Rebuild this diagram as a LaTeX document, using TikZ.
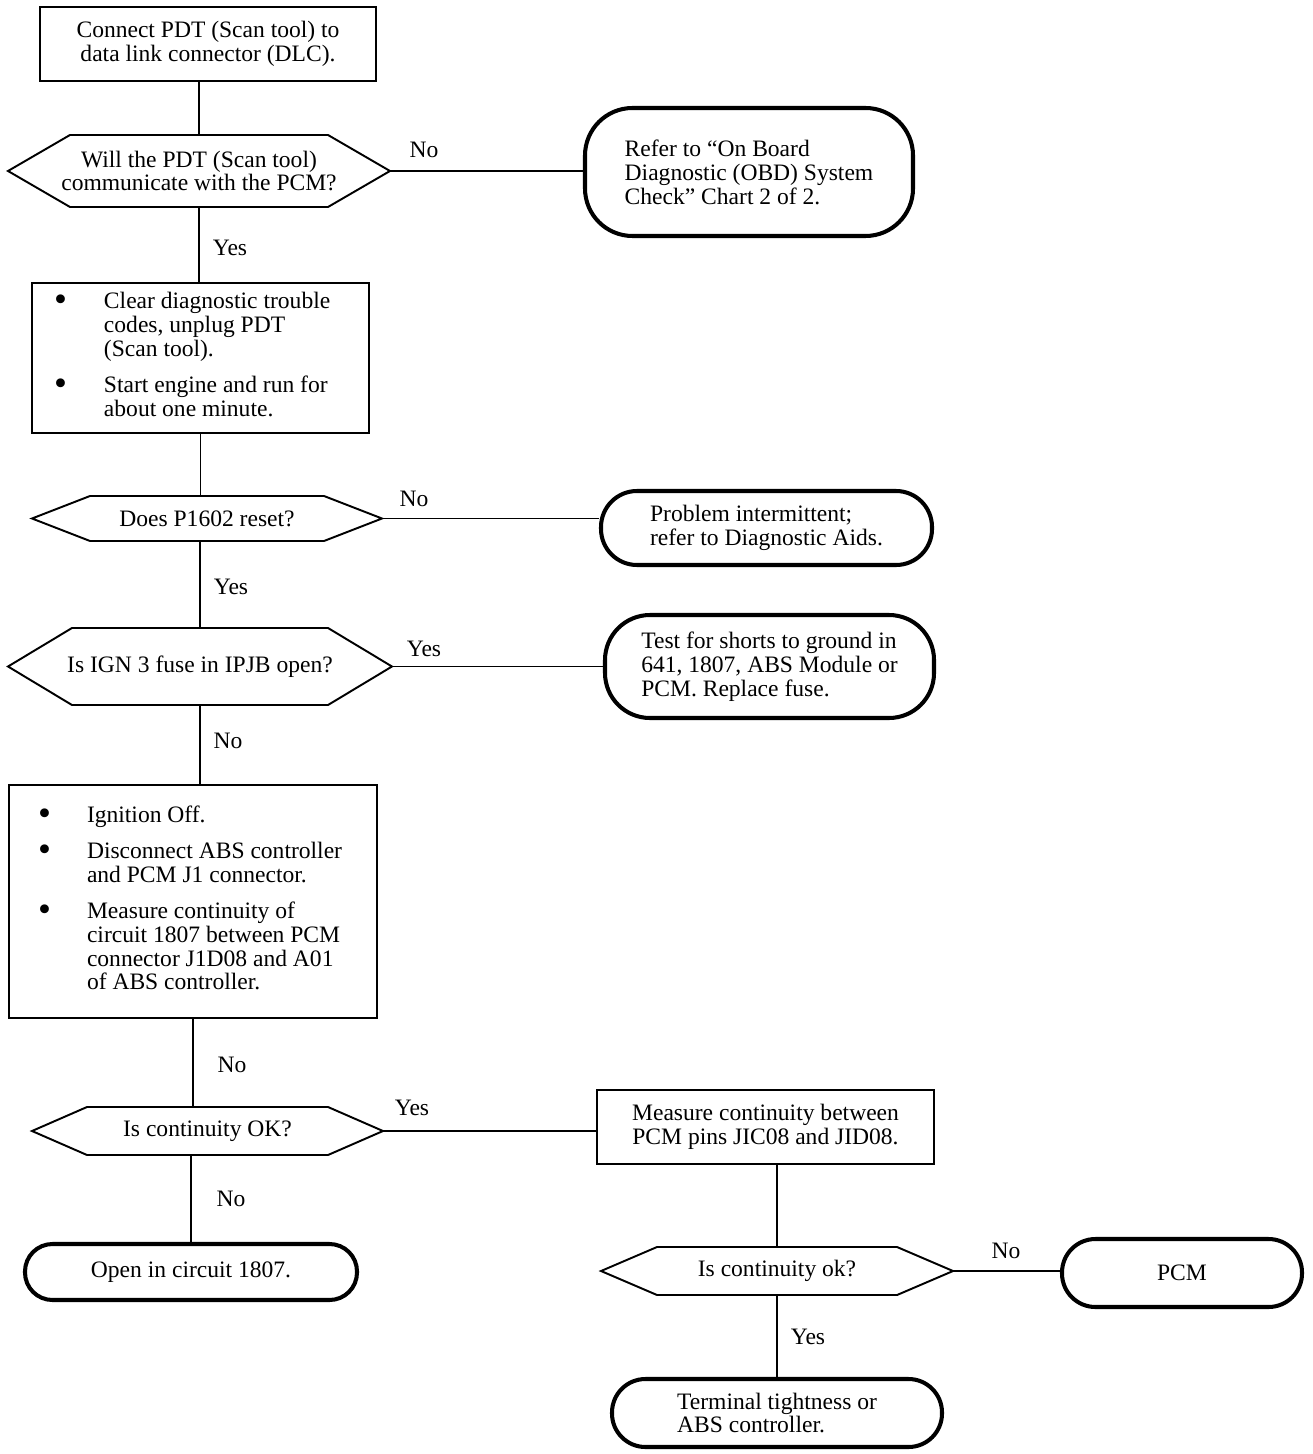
\documentclass[tikz,border=0pt]{standalone}
\usepackage{fontspec}
\setmainfont{Liberation Serif}
\usepackage{tikz}
\usetikzlibrary{positioning,calc}
\newcommand{\chartfont}{\fontsize{13.4pt}{13.6pt}\selectfont}
\newcommand{\dotitem}{{\fontsize{21pt}{13.6pt}\selectfont\raisebox{-1.6pt}{\textbullet}}}
\newcommand{\plainspace}{\spaceskip=0pt\xspaceskip=0pt\relax}

\begin{document}
\begin{tikzpicture}[
    font=\chartfont,
    stepbox/.style={draw, rectangle, line width=1.3pt, align=center},
    listbox/.style={draw, rectangle, line width=1.3pt, align=left, inner ysep=0pt},
    decision/.style={rectangle, outer sep=0pt, inner sep=0pt, align=center},
    hexline/.style={line width=1.1pt, line join=miter},
    terminal/.style={draw, rectangle, rounded corners=0.55cm, line width=2.3pt, align=left},
    link/.style={line width=1pt}
]
    \useasboundingbox (0,0) rectangle (26.24,-29.08);

    % Start
    \node[stepbox, minimum width=6.72cm, minimum height=1.48cm] (box1) at (4.16,-0.88)
        {Connect PDT (Scan tool) to\\data link connector (DLC).};

    % Communication check
    \node[decision, minimum width=7.64cm, minimum height=1.44cm] (q1) at (3.98,-3.42)
        {Will the PDT (Scan tool)\\communicate with the PCM?};
    \node[terminal, rounded corners=0.95cm, minimum width=6.56cm, minimum height=2.56cm] (t1) at (14.98,-3.44)
        {Refer to “On Board\\Diagnostic (OBD) System\\Check” Chart 2 of 2.};

    % Clear codes
    \node[listbox, minimum height=3cm, inner xsep=0.44cm, text width=5.86cm] (box2) at (4.01,-7.16)
        {\plainspace
        \begin{tabular}{@{}p{1.0cm}@{}l@{}}
            \dotitem & Clear diagnostic trouble\\
                     & codes, unplug PDT\\
                     & (Scan tool).\\[0.24cm]
            \dotitem & Start engine and run for\\
                     & about one minute.
        \end{tabular}};

    % Reset check
    \node[decision, minimum width=7cm, minimum height=0.9cm] (q2) at (4.14,-10.37) {Does P1602 reset?};
    \node[terminal, rounded corners=0.72cm, minimum width=6.62cm, minimum height=1.48cm] (t2) at (15.33,-10.56)
        {Problem intermittent;\\refer to Diagnostic Aids.};

    % Fuse check
    \node[decision, minimum width=7.68cm, minimum height=1.54cm] (q3) at (4,-13.33) {Is IGN 3 fuse in IPJB open?};
    \node[terminal, rounded corners=0.9cm, minimum width=6.58cm, minimum height=2.06cm] (t3) at (15.39,-13.33)
        {Test for shorts to ground in\\641, 1807, ABS Module or\\PCM. Replace fuse.};

    % Continuity measurement
    \node[listbox, minimum height=4.66cm, inner xsep=0.58cm, text width=6.2cm] (box3) at (3.86,-18.03)
        {\plainspace
        \begin{tabular}{@{}p{0.98cm}@{}l@{}}
            \dotitem & Ignition Off.\\[0.24cm]
            \dotitem & Disconnect ABS controller\\
                     & and PCM J1 connector.\\[0.24cm]
            \dotitem & Measure continuity of\\
                     & circuit 1807 between PCM\\
                     & connector J1D08 and A01\\
                     & of ABS controller.
        \end{tabular}};

    \node[decision, minimum width=7.02cm, minimum height=0.96cm] (q4) at (4.15,-22.62) {Is continuity OK?};
    \node[stepbox, minimum width=6.74cm, minimum height=1.48cm] (box4) at (15.31,-22.54)
        {Measure continuity between\\PCM pins JIC08 and JID08.};
    \node[terminal, align=center, minimum width=6.64cm, minimum height=1.12cm] (t4) at (3.82,-25.44) {Open in circuit 1807.};

    % Pin check
    \node[decision, minimum width=7.04cm, minimum height=0.96cm] (q5) at (15.54,-25.42) {Is continuity ok?};
    \node[terminal, rounded corners=0.67cm, align=center, minimum width=4.8cm, minimum height=1.36cm] (t5) at (23.64,-25.46) {PCM};
    \node[terminal, rounded corners=0.67cm, minimum width=6.6cm, minimum height=1.36cm] (t6) at (15.54,-28.26)
        {Terminal tightness or\\ABS controller.};

    % Hexagon outlines
    \foreach \q/\s in {q1/1.24, q2/1.16, q3/1.28, q4/1.1, q5/1.12}
        \draw[hexline] (\q.west) -- ([xshift=\s cm]\q.north west) -- ([xshift=-\s cm]\q.north east)
            -- (\q.east) -- ([xshift=-\s cm]\q.south east) -- ([xshift=\s cm]\q.south west) -- cycle;

    % Connectors
    \draw[link] (q1.north |- box1.south) -- (q1.north);
    \draw[link] (q1.east) -- (q1.east -| t1.west);
    \draw[link] (q1.south) -- (q1.south |- box2.north);
    \draw[link] (box2.south) -- (box2.south |- q2.north);
    \draw[link] (q2.east) -- (q2.east -| t2.west);
    \draw[link] (q3.north |- q2.south) -- (q3.north);
    \draw[link] (q3.east) -- (q3.east -| t3.west);
    \draw[link] (q3.south) -- (q3.south |- box3.north);
    \draw[link] (box3.south) -- (box3.south |- q4.north);
    \draw[link] (q4.east) -- (q4.east -| box4.west);
    \draw[link] (t4.north |- q4.south) -- (t4.north);
    \draw[link] (q5.north |- box4.south) -- (q5.north);
    \draw[link] (q5.east) -- (q5.east -| t5.west);
    \draw[link] (q5.south) -- (q5.south |- t6.north);

    % Labels
    \node (no1) at (8.48,-3) {No};
    \node (yes1) at (4.6,-4.96) {Yes};
    \node (no2) at (8.28,-9.98) {No};
    \node (yes2) at (4.62,-11.74) {Yes};
    \node (yes3) at (8.48,-12.98) {Yes};
    \node (no3) at (4.56,-14.82) {No};
    \node (no4) at (4.64,-21.3) {No};
    \node (yes4) at (8.24,-22.16) {Yes};
    \node (no5) at (4.62,-23.98) {No};
    \node (no6) at (20.12,-25.02) {No};
    \node (yes5) at (16.16,-26.74) {Yes};
\end{tikzpicture}
\end{document}
